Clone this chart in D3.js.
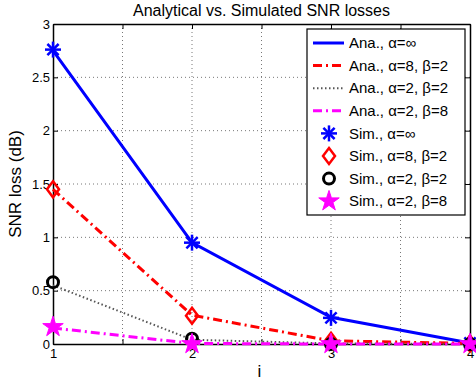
<!DOCTYPE html>
<meta charset="utf-8">
<html>
<head>
<script src="https://cdn.jsdelivr.net/npm/d3@7"></script>
<style>
    body { margin: 0; background: #fff; }
    text { font-family: "Liberation Sans", Arial, sans-serif; }
</style>
</head>
<body>
<div id="chart"></div>
<script>
// data
var xs = [1, 2, 3, 4];
var anaInf  = [2.75, 0.95, 0.25, 0.01];
var ana82   = [1.45, 0.27, 0.03, 0.005];
var ana22   = [0.55, 0.04, 0.005, 0.0];
var ana28   = [0.15, 0.005, 0.0, 0.0];
var simInf  = [2.76, 0.95, 0.245, 0.01];
var sim82   = [1.45, 0.265, 0.03, 0.005];
var sim22   = [0.58, 0.05, 0.0, 0.0];
var sim28   = [0.16, 0.0, 0.0, 0.0];
var xTicks = [1, 1.5, 2, 2.5, 3, 3.5, 4];
var yTicks = [0, 0.5, 1, 1.5, 2, 2.5, 3];
var legendLabels = ["Ana., \u03b1=\u221e", "Ana., \u03b1=8, \u03b2=2", "Ana., \u03b1=2, \u03b2=2", "Ana., \u03b1=2, \u03b2=8",
                    "Sim., \u03b1=\u221e", "Sim., \u03b1=8, \u03b2=2", "Sim., \u03b1=2, \u03b2=2", "Sim., \u03b1=2, \u03b2=8"];

var W = 476, H = 385;
var margin = {top: 24, right: 6, bottom: 41, left: 53};
var width = W - margin.left - margin.right,
    height = H - margin.top - margin.bottom;

var svg = d3.select("#chart").append("svg")
    .attr("width", W).attr("height", H);
var g = svg.append("g").attr("transform", "translate(" + margin.left + "," + margin.top + ")");

var x = d3.scaleLinear().domain([1, 4]).range([0, width]);
var y = d3.scaleLinear().domain([0, 3]).range([height, 0]);

// grid
g.selectAll(".xgrid").data(xTicks.slice(1, -1)).enter().append("line")
    .attr("x1", function(d){ return x(d); }).attr("x2", function(d){ return x(d); })
    .attr("y1", 0).attr("y2", height)
    .style("stroke", "#777").style("stroke-width", 1).style("stroke-dasharray", "1,3");
g.selectAll(".ygrid").data(yTicks.slice(1, -1)).enter().append("line")
    .attr("y1", function(d){ return y(d); }).attr("y2", function(d){ return y(d); })
    .attr("x1", 0).attr("x2", width)
    .style("stroke", "#777").style("stroke-width", 1).style("stroke-dasharray", "1,3");

// axes (ticks inside, box)
var xAxis = d3.axisBottom(x).tickValues(xTicks).tickSizeInner(-5).tickSizeOuter(0)
    .tickFormat(function(d){ return d % 1 === 0 ? d : ""; });
var yAxis = d3.axisLeft(y).tickValues(yTicks).tickSizeInner(-5).tickSizeOuter(0)
    .tickFormat(function(d){ return d; });
var xa = g.append("g").attr("transform", "translate(0," + height + ")").call(xAxis);
var ya = g.append("g").call(yAxis);
var xt = g.append("g").call(d3.axisTop(x).tickValues(xTicks).tickSizeInner(-5).tickSizeOuter(0).tickFormat(""));
var yr = g.append("g").attr("transform", "translate(" + width + ",0)")
    .call(d3.axisRight(y).tickValues(yTicks).tickSizeInner(-5).tickSizeOuter(0).tickFormat(""));
[xa, ya, xt, yr].forEach(function(a){
    a.select(".domain").style("stroke", "#000").style("stroke-width", 1.5);
    a.selectAll(".tick line").style("stroke", "#000");
    a.selectAll("text").style("font-size", "13px").style("fill", "#000")
        .style("font-family", "'Liberation Sans', Arial, sans-serif");
});
xa.selectAll("text").attr("dy", "0.85em").attr("y", 3);
ya.selectAll("text").attr("x", -3);

// lines
var line = function(vals){
    return d3.line().x(function(d, i){ return x(xs[i]); }).y(function(d){ return y(d); })(vals);
};
var series = [
    {vals: anaInf, color: "#0000ff", dash: null, w: 3},
    {vals: ana82, color: "#ff0000", dash: "9,4,2,4", w: 3},
    {vals: ana22, color: "#555", dash: "1.5,2.5", w: 2},
    {vals: ana28, color: "#ff00ff", dash: "9,4,2,4", w: 3}
];
series.forEach(function(s){
    g.append("path").attr("d", line(s.vals))
        .style("fill", "none").style("stroke", s.color).style("stroke-width", s.w)
        .style("stroke-dasharray", s.dash);
});

// markers
function asterisk(sel, r, color){
    [[-r, 0, r, 0], [0, -r, 0, r], [-r*0.7, -r*0.7, r*0.7, r*0.7], [-r*0.7, r*0.7, r*0.7, -r*0.7]].forEach(function(l){
        sel.append("line").attr("x1", l[0]).attr("y1", l[1]).attr("x2", l[2]).attr("y2", l[3])
            .style("stroke", color).style("stroke-width", 2.5);
    });
}
function drawMarker(sel, type){
    if (type === "ast") asterisk(sel, 8, "#0000ff");
    else if (type === "dia") sel.append("path").attr("d", "M0,-8L6,0L0,8L-6,0Z")
        .style("fill", "none").style("stroke", "#ff0000").style("stroke-width", 2.5);
    else if (type === "circ") sel.append("circle").attr("r", 5.5)
        .style("fill", "none").style("stroke", "#000").style("stroke-width", 3);
    else if (type === "star") sel.append("path").attr("d", d3.symbol().type(d3.symbolStar).size(130)())
        .style("fill", "#ff00ff").style("stroke", "#ff00ff").style("stroke-width", 1);
}
var sims = [
    {vals: simInf, type: "ast"},
    {vals: sim82, type: "dia"},
    {vals: sim22, type: "circ"},
    {vals: sim28, type: "star"}
];
sims.forEach(function(s){
    s.vals.forEach(function(v, i){
        var m = g.append("g").attr("transform", "translate(" + x(xs[i]) + "," + y(v) + ")");
        drawMarker(m, s.type);
    });
});

// title & labels
svg.append("text").attr("x", margin.left + width / 2).attr("y", 16)
    .attr("text-anchor", "middle").style("font-size", "16px").text("Analytical vs. Simulated SNR losses");
svg.append("text").attr("x", margin.left + width / 2 - 2).attr("y", 377)
    .attr("text-anchor", "middle").style("font-size", "17px").text("i");
svg.append("text").attr("transform", "translate(21," + (margin.top + height / 2) + ") rotate(-90)")
    .attr("text-anchor", "middle").style("font-size", "17px").text("SNR loss (dB)");

// legend
var lx = 307, ly = 29, lw = 158, lh = 186, rowH = 22.6;
var leg = svg.append("g").attr("transform", "translate(" + lx + "," + ly + ")");
leg.append("rect").attr("width", lw).attr("height", lh)
    .style("fill", "#fff").style("stroke", "#000").style("stroke-width", 1.2);
legendLabels.forEach(function(lab, i){
    var cy = 14 + i * rowH;
    if (i < 4) {
        var s = series[i];
        leg.append("line").attr("x1", 6).attr("x2", 37).attr("y1", cy).attr("y2", cy)
            .style("stroke", s.color).style("stroke-width", s.w).style("stroke-dasharray", s.dash);
    } else {
        var m = leg.append("g").attr("transform", "translate(22," + cy + ")");
        drawMarker(m, sims[i - 4].type);
    }
    leg.append("text").attr("x", 42).attr("y", cy).attr("dy", "0.35em")
        .style("font-size", "15px").text(lab);
});
</script>
</body>
</html>
